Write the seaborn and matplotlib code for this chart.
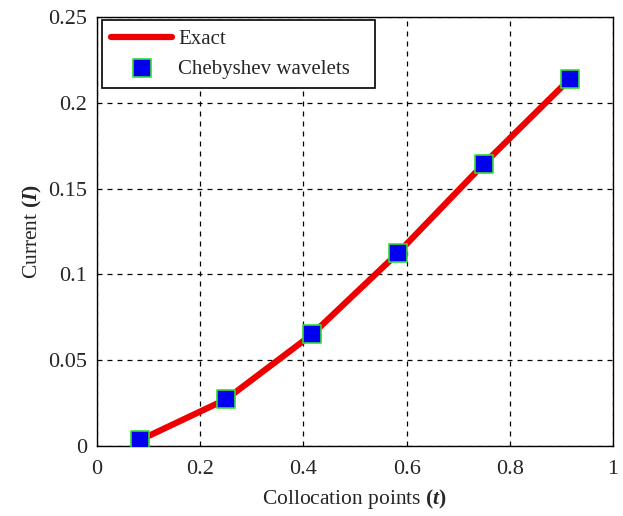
import numpy as np
import pandas as pd
import matplotlib
matplotlib.use("Agg")
import matplotlib.pyplot as plt
import seaborn as sns

# collocation points and computed current
t_points = [1/12, 3/12, 5/12, 7/12, 9/12, 11/12]
current_exact = [0.0035, 0.0272, 0.0650, 0.1125, 0.1645, 0.2140]
current_cheb = [0.0035, 0.0272, 0.0650, 0.1125, 0.1645, 0.2140]

x_ticks = [0, 0.2, 0.4, 0.6, 0.8, 1]
y_ticks = [0, 0.05, 0.1, 0.15, 0.2, 0.25]
y_tick_labels = ["0", "0.05", "0.1", "0.15", "0.2", "0.25"]

sns.set_style("white")
plt.rcParams['font.family'] = ['Liberation Serif', 'DejaVu Serif']
plt.rcParams['mathtext.fontset'] = 'custom'
plt.rcParams['mathtext.rm'] = 'Liberation Serif'
plt.rcParams['mathtext.it'] = 'Liberation Serif:italic'
plt.rcParams['mathtext.bf'] = 'Liberation Serif:bold'
plt.rcParams['mathtext.bfit'] = 'Liberation Serif:bold:italic'

df = pd.DataFrame({"t": t_points, "exact": current_exact, "cheb": current_cheb})

fig = plt.figure(figsize=(6.23, 5.16), dpi=100)
ax = fig.add_axes([97/623, 70/516, 516/623, 429/516])

sns.lineplot(data=df, x="t", y="exact", ax=ax, color="#ee0000", linewidth=4.5,
             label="Exact", zorder=3)
sns.scatterplot(data=df, x="t", y="cheb", ax=ax, marker="s", s=150,
                color="#0000ee", edgecolor="#33dd33", linewidth=1.2,
                label="Chebyshev wavelets", zorder=4)

ax.set_xlim(0, 1)
ax.set_ylim(0, 0.25)
ax.set_xticks(x_ticks)
ax.set_xticklabels([f"{v:g}" for v in x_ticks])
ax.set_yticks(y_ticks)
ax.set_yticklabels(y_tick_labels)
ax.tick_params(direction="in", labelsize=16, length=5, color="black")
ax.tick_params(axis="x", pad=10)
ax.tick_params(axis="y", pad=7)
ax.grid(True, color="black", linestyle=(0, (4, 4)), linewidth=0.9)
for s in ax.spines.values():
    s.set_color("black")
    s.set_linewidth(1.0)

ax.set_xlabel(r"Collocation points $\mathbf{(}\mathbfit{t}\mathbf{)}$", fontsize=15.5, labelpad=6)
ax.set_ylabel(r"Current $\mathbf{(}\mathbfit{I}\mathbf{)}$", fontsize=15.5, labelpad=3)

leg = ax.legend(loc="upper left", bbox_to_anchor=(0.0097, 0, 0.529, 0.993),
                mode="expand", borderaxespad=0,
                fontsize=15, frameon=True, fancybox=False,
                edgecolor="black", framealpha=1,
                handlelength=2.9, handletextpad=0.3, borderpad=0.45,
                labelspacing=0.5)
leg.get_frame().set_linewidth(1.2)

fig.savefig("out.png", dpi=100)
